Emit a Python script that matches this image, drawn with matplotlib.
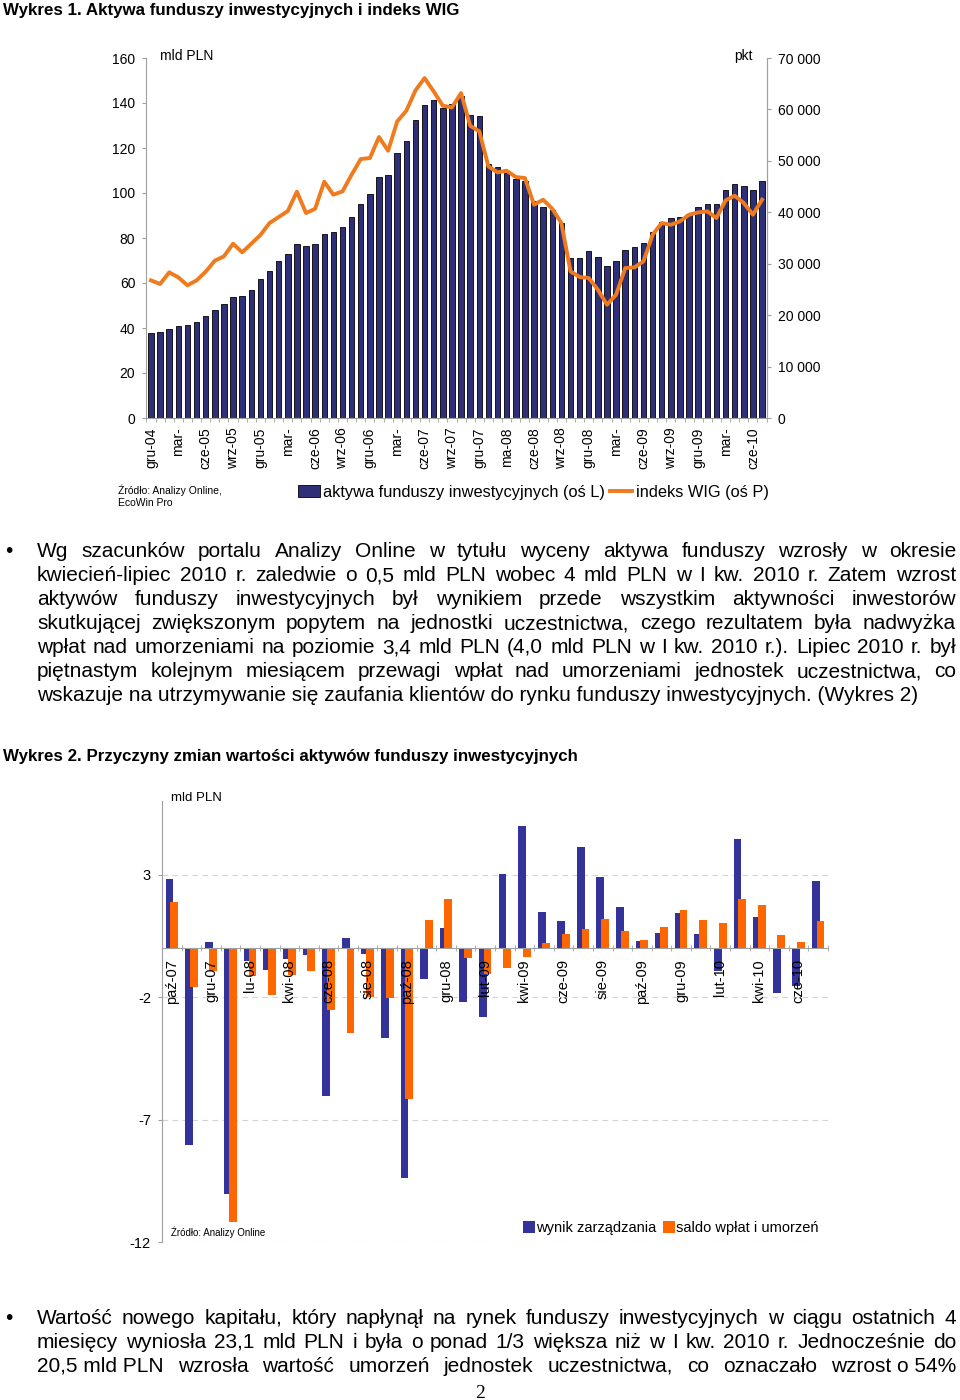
import numpy as np
import matplotlib
matplotlib.use('Agg')
import matplotlib.pyplot as plt
from matplotlib.ticker import FixedLocator, FuncFormatter
from matplotlib.patches import Patch
from matplotlib.lines import Line2D

plt.rcParams['font.family'] = ['Liberation Sans', 'DejaVu Sans']
plt.rcParams['axes.unicode_minus'] = False

# --- Wykres 1: aktywa funduszy (mld PLN) i WIG (pkt), gru-04 .. lip-10
assets = [37.8, 38.1, 39.7, 41.0, 41.3, 42.7, 45.5, 47.9, 50.5, 53.6, 54.4, 57.0,
          61.8, 65.3, 69.8, 72.9, 77.5, 76.6, 77.5, 81.9, 82.7, 84.9, 89.2, 95.3,
          99.4, 107.1, 107.9, 117.6, 123.3, 132.4, 139.1, 141.3, 137.9, 139.6, 143.0,
          134.7, 134.1, 112.9, 111.4, 108.9, 106.2, 105.2, 96.3, 93.6, 92.3, 86.7,
          71.1, 71.1, 74.2, 71.6, 67.7, 69.9, 74.5, 76.0, 77.8, 82.5, 87.0, 88.7,
          89.2, 90.5, 93.6, 95.1, 95.1, 101.5, 104.1, 103.0, 101.5, 105.3]
wig = [26760, 26050, 28320, 27350, 25790, 26760, 28450, 30590, 31430, 33890,
       32210, 33890, 35580, 37910, 39070, 40240, 44000, 39850, 40690, 45940,
       43420, 44060, 47300, 50350, 50540, 54630, 51970, 57670, 59750, 63700,
       66100, 63500, 60720, 60390, 63180, 56830, 55730, 48920, 47760, 48080,
       46850, 46660, 41470, 42440, 40690, 37910, 28510, 27410, 27220, 24950,
       22030, 23980, 29160, 29290, 30460, 35640, 37910, 37580, 38230, 39530,
       39980, 40180, 38880, 42310, 43220, 41800, 39530, 42440]
labels1 = ['gru-04', 'mar-', 'cze-05', 'wrz-05', 'gru-05', 'mar-', 'cze-06', 'wrz-06',
           'gru-06', 'mar-', 'cze-07', 'wrz-07', 'gru-07', 'ma-08', 'cze-08', 'wrz-08',
           'gru-08', 'mar-', 'cze-09', 'wrz-09', 'gru-09', 'mar-', 'cze-10']

# --- Wykres 2: przyczyny zmian (mld PLN), paź-07 .. lip-10
wynik = [2.83, -8.04, 0.23, -10.05, -0.54, -0.88, -0.45, -0.27, -6.05, 0.41,
         -0.23, -3.67, -9.38, -1.25, 0.84, -2.21, -2.79, 3.03, 4.99, 1.49,
         1.11, 4.12, 2.92, 1.66, 0.27, 0.61, 1.45, 0.58, -0.95, 4.46,
         1.25, -1.83, -1.54, 2.74]
saldo = [1.90, -1.60, -0.95, -11.17, -1.13, -1.93, -1.10, -0.95, -2.54, -3.46,
         -2.01, -2.04, -6.15, 1.15, 2.01, -0.41, -1.05, -0.82, -0.37, 0.20,
         0.58, 0.77, 1.20, 0.71, 0.31, 0.86, 1.54, 1.15, 1.02, 2.00,
         1.74, 0.52, 0.24, 1.11]
labels2 = ['paź-07', 'gru-07', 'lu-08', 'kwi-08', 'cze-08', 'sie-08', 'paź-08',
           'gru-08', 'lut-09', 'kwi-09', 'cze-09', 'sie-09', 'paź-09', 'gru-09',
           'lut-10', 'kwi-10', 'cze-10']

para1 = ["Wg szacunków portalu Analizy Online w tytułu wyceny aktywa funduszy wzrosły w okresie",
         "kwiecień-lipiec 2010 r. zaledwie o 0,5 mld PLN wobec 4 mld PLN w I kw. 2010 r. Zatem wzrost",
         "aktywów funduszy inwestycyjnych był wynikiem przede wszystkim aktywności inwestorów",
         "skutkującej zwiększonym popytem na jednostki uczestnictwa, czego rezultatem była nadwyżka",
         "wpłat nad umorzeniami na poziomie 3,4 mld PLN (4,0 mld PLN w I kw. 2010 r.). Lipiec 2010 r. był",
         "piętnastym kolejnym miesiącem przewagi wpłat nad umorzeniami jednostek uczestnictwa, co",
         "wskazuje na utrzymywanie się zaufania klientów do rynku funduszy inwestycyjnych. (Wykres 2)"]
para2 = ["Wartość nowego kapitału, który napłynął na rynek funduszy inwestycyjnych w ciągu ostatnich 4",
         "miesięcy wyniosła 23,1 mld PLN i była o ponad 1/3 większa niż w I kw. 2010 r. Jednocześnie do",
         "20,5\u00a0mld\u00a0PLN wzrosła wartość umorzeń jednostek uczestnictwa, co oznaczało wzrost\u00a0o\u00a054%"]

NAVY = '#2f2f78'
BLUE = '#333399'
ORANGE = '#f07a1e'
ORANGE2 = '#ff6600'
GRAY = '#a0a0a0'
TXT = 15.0

W, H = 960, 1400
fig = plt.figure(figsize=(W / 100, H / 100), dpi=100)


def fx(px):
    return px / W


def fy(py):
    return 1 - py / H


renderer = fig.canvas.get_renderer()


def put_line(text, yb, x0, x1, size, justify=True):
    if not justify:
        fig.text(fx(x0), fy(yb), text.replace('\u00a0', ' '), fontsize=size, va='baseline')
        return
    words = text.split(' ')
    arts, widths = [], []
    for w in words:
        t = fig.text(0, fy(yb), w.replace('\u00a0', ' '), fontsize=size, va='baseline')
        arts.append(t)
        widths.append(t.get_window_extent(renderer).width if w else 0)
    gap = (x1 - x0 - sum(widths)) / (len(words) - 1)
    x = x0
    for t, w in zip(arts, widths):
        t.set_x(fx(x))
        x += w + gap


# titles
fig.text(fx(3), fy(15.5), 'Wykres 1. Aktywa funduszy inwestycyjnych i indeks WIG',
         fontsize=12.2, fontweight='bold', va='baseline')
fig.text(fx(3), fy(760.5), 'Wykres 2. Przyczyny zmian wartości aktywów funduszy inwestycyjnych',
         fontsize=12.2, fontweight='bold', va='baseline')

# ---------------- chart 1
ax1 = fig.add_axes([fx(146.4), fy(418), (766.6 - 146.4) / W, (418 - 58) / H])
x1 = np.arange(len(assets))
ax1.bar(x1, assets, width=0.6, color=NAVY, edgecolor='black', linewidth=0.6)
ax1.set_xlim(-0.5, len(assets) - 0.5)
ax1.set_ylim(0, 160)
ax1.set_yticks(range(0, 161, 20))
ax1.xaxis.set_major_locator(FixedLocator(x1[::3]))
ax1.set_xticklabels(labels1, rotation=90)
ax1.set_xticks(np.arange(-0.5, len(assets), 1), minor=True)
ax1.tick_params(axis='x', which='major', length=0, pad=7, labelsize=10)
ax1.tick_params(axis='x', which='minor', length=3, color=GRAY)
ax1.tick_params(axis='y', length=3, color=GRAY, pad=5, labelsize=10)
ax1.spines['top'].set_visible(False)
for s in ['left', 'right', 'bottom']:
    ax1.spines[s].set_color(GRAY)

ax1r = ax1.twinx()
ax1r.plot(x1, wig, color=ORANGE, lw=2.8, solid_joinstyle='round')
ax1r.set_ylim(0, 70000)
ax1r.set_yticks(range(0, 70001, 10000))
ax1r.yaxis.set_major_formatter(FuncFormatter(lambda v, p: f'{int(v):,}'.replace(',', ' ')))
ax1r.tick_params(axis='y', length=3, color=GRAY, pad=5, labelsize=10)
for s in ['top', 'left', 'bottom']:
    ax1r.spines[s].set_visible(False)
ax1r.spines['right'].set_color(GRAY)

fig.text(fx(160), fy(56), 'mld PLN', fontsize=10, va='center')
fig.text(fx(753), fy(56), 'pkt', fontsize=10, va='center', ha='right')
fig.text(fx(118), fy(490), 'Źródło: Analizy Online,', fontsize=7.5, va='center')
fig.text(fx(118), fy(503), 'EcoWin Pro', fontsize=7.5, va='center')
fig.legend(handles=[Patch(facecolor=NAVY, edgecolor='black', linewidth=0.6),
                    Line2D([], [], color=ORANGE, lw=2.8)],
           labels=['aktywa funduszy inwestycyjnych (oś L)', 'indeks WIG (oś P)'],
           loc='center left', bbox_to_anchor=(fx(298), fy(492)), ncol=2, frameon=False,
           fontsize=11.8, handlelength=1.35, handleheight=0.7, handletextpad=0.2,
           columnspacing=0.3, borderpad=0, borderaxespad=0)

# paragraph 1
fig.text(fx(5), fy(557), '•', fontsize=TXT, va='baseline')
for i, line in enumerate(para1):
    put_line(line, 557 + 24 * i, 37, 956, TXT, justify=(i < len(para1) - 1))

# ---------------- chart 2
ax2 = fig.add_axes([fx(162), fy(1242.3), (828 - 162) / W, (1242.3 - 801) / H])
ax2.spines['bottom'].set_position(('data', 0))
x2 = np.arange(len(wynik))
ax2.bar(x2 - 0.12, wynik, width=0.4, color=BLUE, zorder=2)
ax2.bar(x2 + 0.12, saldo, width=0.4, color=ORANGE2, zorder=2.1)
ax2.set_xlim(-0.5, len(wynik) - 0.5)
ax2.set_ylim(-12, 6)
ax2.set_yticks([3, -2, -7, -12])
ax2.yaxis.grid(True, ls=(0, (5, 4)), color='#d4d4d4', lw=0.8)
ax2.yaxis.set_zorder(0.5)
ax2.xaxis.set_zorder(3)
ax2.xaxis.set_major_locator(FixedLocator(x2[::2]))
ax2.set_xticklabels(labels2, rotation=90)
ax2.set_xticks(np.arange(-0.5, len(wynik), 1), minor=True)
ax2.tick_params(axis='x', which='major', length=0, pad=8, labelsize=10.5)
ax2.tick_params(axis='x', which='minor', length=4, direction='inout', color=GRAY)
ax2.tick_params(axis='y', length=3, color=GRAY, pad=5, labelsize=10.5)
for s in ['top', 'right']:
    ax2.spines[s].set_visible(False)
for s in ['left', 'bottom']:
    ax2.spines[s].set_color(GRAY)

fig.text(fx(171), fy(798), 'mld PLN', fontsize=9.5, va='center')
fig.text(fx(171), fy(1232), 'Źródło: Analizy Online', fontsize=7, va='center')
fig.legend(handles=[Patch(facecolor=BLUE), Patch(facecolor=ORANGE2)],
           labels=['wynik zarządzania', 'saldo wpłat i umorzeń'],
           loc='center left', bbox_to_anchor=(fx(523), fy(1228)), ncol=2, frameon=False,
           fontsize=10.5, handlelength=0.8, handleheight=0.8, handletextpad=0.1,
           columnspacing=0.45, borderpad=0, borderaxespad=0)

# paragraph 2
fig.text(fx(5), fy(1324), '•', fontsize=TXT, va='baseline')
for i, line in enumerate(para2):
    put_line(line, 1324 + 24 * i, 37, 956, TXT)

fig.text(fx(480), fy(1393), '2', fontsize=14, family='Liberation Serif', ha='center', va='center')

fig.savefig('out.png', dpi=100)
